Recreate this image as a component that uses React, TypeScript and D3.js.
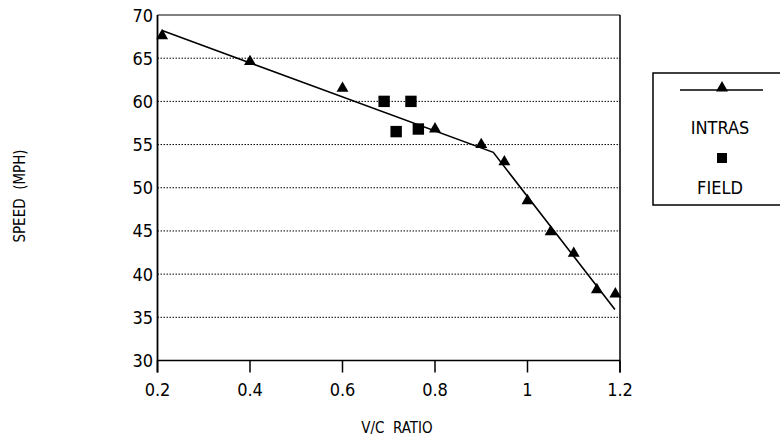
import React from 'react';
import * as d3 from 'd3';

// INTRAS model points (V/C ratio, speed mph)
const intrasVC = [0.21, 0.4, 0.6, 0.8, 0.9, 0.95, 1.0, 1.05, 1.1, 1.15, 1.19];
const intrasSpeed = [67.6, 64.6, 61.5, 56.8, 55.0, 53.0, 48.5, 44.9, 42.4, 38.2, 37.7];

// fitted INTRAS curve (two straight segments)
const fitVC = [0.21, 0.926, 1.189];
const fitSpeed = [68.2, 54.1, 35.9];

// field observations
const fieldVC = [0.69, 0.716, 0.748, 0.764];
const fieldSpeed = [60.0, 56.5, 60.0, 56.8];

const xTicks = [0.2, 0.4, 0.6, 0.8, 1.0, 1.2];
const xTickLabels = ['0.2', '0.4', '0.6', '0.8', '1', '1.2'];
const yTicks = [30, 35, 40, 45, 50, 55, 60, 65, 70];
const yTickLabels = ['30', '35', '40', '45', '50', '55', '60', '65', '70'];

const font = '"Liberation Sans Narrow", "DejaVu Sans Condensed", "Arial Narrow", sans-serif';

const App = () => {
    const width = 780;
    const height = 438;
    const left = 157.5, right = 620, top = 15, bottom = 360.5;

    const x = d3.scaleLinear().domain([0.2, 1.2]).range([left, right]);
    const y = d3.scaleLinear().domain([30, 70]).range([bottom, top]);

    const line = d3.line<number>()
        .x(i => x(fitVC[i]))
        .y(i => y(fitSpeed[i]));

    const tri = d3.symbol().type(d3.symbolTriangle).size(62)();
    const sq = d3.symbol().type(d3.symbolSquare).size(130)();

    return (
        <svg width={width} height={height} style={{ position: 'absolute', left: 0, top: 0, background: '#fff' }}
            fontFamily={font}>
            {/* dotted grid */}
            {yTicks.slice(1, -1).map(t => (
                <line key={t} x1={left} x2={right} y1={y(t)} y2={y(t)}
                    stroke="#000" strokeWidth={1} strokeDasharray="1.5 1.5" />
            ))}
            {/* frame */}
            <line x1={left} x2={right} y1={top} y2={top} stroke="#000" strokeWidth={1} />
            <line x1={right} x2={right} y1={top} y2={bottom + 12} stroke="#000" strokeWidth={1.5} />
            <line x1={left} x2={left} y1={top} y2={bottom + 12} stroke="#000" strokeWidth={1.8} />
            <line x1={left} x2={right} y1={bottom} y2={bottom} stroke="#000" strokeWidth={1.5} />

            {/* x ticks */}
            {xTicks.map((t, i) => (
                <g key={t}>
                    <line x1={x(t)} x2={x(t)} y1={bottom} y2={bottom + 12} stroke="#000" strokeWidth={1.5} />
                    <text x={x(t)} y={396} textAnchor="middle" fontSize={18}>{xTickLabels[i]}</text>
                </g>
            ))}
            {/* y tick labels */}
            {yTicks.map((t, i) => (
                <text key={t} x={153} y={y(t) + 6.5} textAnchor="end" fontSize={18}>{yTickLabels[i]}</text>
            ))}

            {/* axis titles */}
            <text x={397} y={433} textAnchor="middle" fontSize={15}>V/C&#160;&#160;RATIO</text>
            <text transform={`translate(25,196) rotate(-90)`} textAnchor="middle" fontSize={15}>SPEED&#160;&#160;(MPH)</text>

            {/* fitted line */}
            <path d={line(fitVC.map((_, i) => i)) || ''} fill="none" stroke="#000" strokeWidth={1.6} />

            {/* INTRAS triangles */}
            {intrasVC.map((v, i) => (
                <path key={i} d={tri || ''} transform={`translate(${x(v)},${y(intrasSpeed[i])})`} fill="#000" />
            ))}
            {/* field squares */}
            {fieldVC.map((v, i) => (
                <path key={i} d={sq || ''} transform={`translate(${x(v)},${y(fieldSpeed[i])})`} fill="#000" />
            ))}

            {/* legend */}
            <rect x={653} y={73} width={140} height={132} fill="none" stroke="#000" strokeWidth={1.5} />
            <line x1={680} x2={763} y1={90} y2={90} stroke="#000" strokeWidth={1.5} />
            <path d={tri || ''} transform="translate(722,88)" fill="#000" />
            <text x={720} y={134} textAnchor="middle" fontSize={18}>INTRAS</text>
            <path d={d3.symbol().type(d3.symbolSquare).size(100)() || ''} transform="translate(722,158)" fill="#000" />
            <text x={720} y={194} textAnchor="middle" fontSize={18}>FIELD</text>
        </svg>
    );
};

export default App;
